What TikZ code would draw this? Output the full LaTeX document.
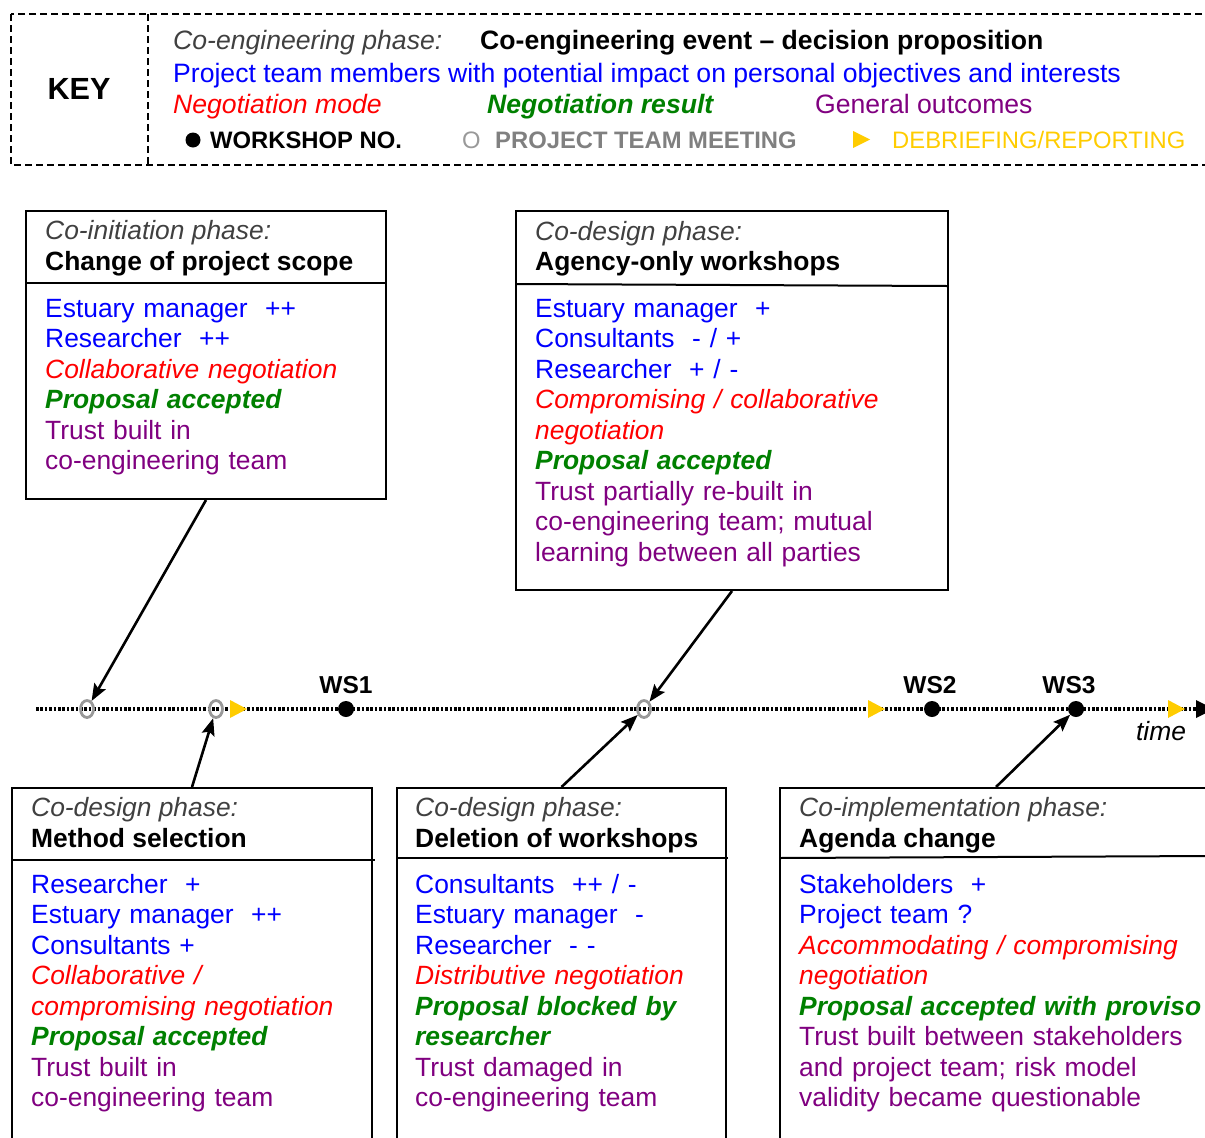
\documentclass[tikz,border=0pt]{standalone}
\usepackage{fontspec}
\setmainfont{Liberation Sans}
\usetikzlibrary{arrows.meta,shapes.geometric}
\definecolor{cblue}{HTML}{0000FF}
\definecolor{cred}{HTML}{FF0000}
\definecolor{cgreen}{HTML}{008000}
\definecolor{cpurple}{HTML}{800080}
\definecolor{cyel}{HTML}{FFCC00}
\definecolor{cgreyt}{HTML}{404040}
\definecolor{cgreym}{HTML}{808080}
\definecolor{cgreyc}{HTML}{999999}
\newcommand{\bodyfs}{\fontsize{26.4}{30.55}\selectfont}
\newcommand{\keyfs}{\fontsize{26.6}{30.55}\selectfont}
\newcommand{\smallfs}{\fontsize{23.8}{28}\selectfont}
\newcommand{\ph}[1]{{\color{cgreyt}\itshape #1}}
\newcommand{\mem}[1]{{\color{cblue}#1}}
\newcommand{\nmode}[1]{{\color{cred}\itshape #1}}
\newcommand{\nres}[1]{{\color{cgreen}\bfseries\itshape #1}}
\newcommand{\gout}[1]{{\color{cpurple}#1}}
\tikzset{
  boxst/.style={draw, line width=2pt, inner sep=0pt, anchor=north west},
  txt/.style={inner sep=0pt, anchor=base west, font=\bodyfs},
  blk/.style={inner sep=0pt, anchor=base west, font=\bodyfs, text width=#1, align=left},
  ktxt/.style={inner sep=0pt, anchor=base west, font=\keyfs},
  k4/.style={inner sep=0pt, anchor=base west, font=\smallfs},
  keyline/.style={line width=1.7pt, dash pattern=on 7pt off 4pt},
  divline/.style={line width=2pt},
  conn/.style={line width=2.6pt, -{Stealth[length=17pt,width=13pt,inset=3pt]}},
  tline/.style={line width=3.2pt, dash pattern=on 2.6pt off 1.8pt},
  meet/.style={ellipse, draw=cgreyc, line width=2.8pt, minimum width=13pt, minimum height=17pt, inner sep=0pt},
  wsdot/.style={circle, fill=black, minimum size=16pt, inner sep=0pt},
  wslab/.style={inner sep=0pt, anchor=base, font=\fontsize{24.5}{28}\selectfont\bfseries},
}
\begin{document}
\begin{tikzpicture}[x=1pt,y=-1pt]
\useasboundingbox (0,0) rectangle (1205,1138);
% ---------- KEY ----------
\draw[keyline] (11,14) rectangle (1220,165);
\draw[keyline] (148,14) -- (148,165);
\node[inner sep=0pt, anchor=base, font=\fontsize{30.6}{34}\selectfont\bfseries] (keyt) at (79,99) {KEY};
\node[ktxt] (k1) at (173,49) {\ph{Co-engineering phase:}};
\node[ktxt] (k2) at (480,49) {\bfseries Co-engineering event – decision proposition};
\node[ktxt] (k3) at (173,82) {\mem{Project team members with potential impact on personal objectives and interests}};
\node[ktxt] (k4) at (173,113) {\nmode{Negotiation mode}};
\node[ktxt] (k5) at (487,113) {\nres{Negotiation result}};
\node[ktxt] (k6) at (815,113) {\gout{General outcomes}};
\node[circle, fill=black, minimum size=15pt, inner sep=0pt] (kdot) at (193,140) {};
\node[k4] (k7) at (210,148) {\bfseries WORKSHOP NO.};
\node[k4] (k8) at (462,148) {\color{cgreyc}O};
\node[k4] (k9) at (495,148) {\color{cgreym}\bfseries PROJECT TEAM MEETING};
\fill[cyel] (853,131) -- (870,139.5) -- (853,148) -- cycle;
\node[k4] (k10) at (892,148) {\color{cyel}DEBRIEFING/REPORTING};
% ---------- Boxes ----------
\node[boxst, minimum width=360pt, minimum height=288pt] (boxA) at (25,210) {};
\draw[divline] (25,283) -- (385,283);
\node[txt] (tA1) at (45,239) {\ph{Co-initiation phase:}};
\node[txt] (tA2) at (45,270) {\bfseries Change of project scope};
\node[blk=340pt] (bA) at (45,317) {\mem{Estuary manager~~++}\\ \mem{Researcher~~++}\\ \nmode{Collaborative negotiation}\\ \nres{Proposal accepted}\\ \gout{Trust built in}\\ \gout{co-engineering team}};

\node[boxst, minimum width=432pt, minimum height=379pt] (boxB) at (515,210) {};
\draw[divline] (515,284) -- (947,286);
\node[txt] (tB1) at (535,240) {\ph{Co-design phase:}};
\node[txt] (tB2) at (535,270) {\bfseries Agency-only workshops};
\node[blk=410pt] (bB) at (535,317) {\mem{Estuary manager~~+}\\ \mem{Consultants~~- / +}\\ \mem{Researcher~~+ / -}\\ \nmode{Compromising / collaborative}\\ \nmode{negotiation}\\ \nres{Proposal accepted}\\ \gout{Trust partially re-built in}\\ \gout{co-engineering team; mutual}\\ \gout{learning between all parties}};

\node[boxst, minimum width=360pt, minimum height=400pt] (boxC) at (11,787) {};
\draw[divline] (11,860) -- (375,860);
\node[txt] (tC1) at (31,816) {\ph{Co-design phase:}};
\node[txt] (tC2) at (31,847) {\bfseries Method selection};
\node[blk=340pt] (bC) at (31,893) {\mem{Researcher~~+}\\ \mem{Estuary manager~~++}\\ \mem{Consultants +}\\ \nmode{Collaborative /}\\ \nmode{compromising negotiation}\\ \nres{Proposal accepted}\\ \gout{Trust built in}\\ \gout{co-engineering team}};

\node[boxst, minimum width=329pt, minimum height=400pt] (boxD) at (396,787) {};
\draw[divline] (396,858) -- (728,858);
\node[txt] (tD1) at (415,816) {\ph{Co-design phase:}};
\node[txt] (tD2) at (415,847) {\bfseries Deletion of workshops};
\node[blk=320pt] (bD) at (415,893) {\mem{Consultants~~++ / -}\\ \mem{Estuary manager~~-}\\ \mem{Researcher~~- -}\\ \nmode{Distributive negotiation}\\ \nres{Proposal blocked by}\\ \nres{researcher}\\ \gout{Trust damaged in}\\ \gout{co-engineering team}};

\node[boxst, minimum width=432pt, minimum height=400pt] (boxE) at (779,787) {};
\draw[divline] (779,858) -- (1211,856);
\node[txt] (tE1) at (799,816) {\ph{Co-implementation phase:}};
\node[txt] (tE2) at (799,847) {\bfseries Agenda change};
\node[blk=420pt] (bE) at (799,893) {\mem{Stakeholders~~+}\\ \mem{Project team ?}\\ \nmode{Accommodating / compromising}\\ \nmode{negotiation}\\ \nres{Proposal accepted with proviso}\\ \gout{Trust built between stakeholders}\\ \gout{and project team; risk model}\\ \gout{validity became questionable}};
% ---------- Timeline ----------
\coordinate (tstart) at (36,709);
\coordinate (tend) at (1214,709);
\draw[tline] (tstart) -- (1196,709);
\fill (tend) -- (1196,700) -- (1196,718) -- cycle;
\node[meet] (m1) at (87,709) {};
\node[meet] (m2) at (216,709) {};
\node[meet] (m3) at (644,709) {};
\node[wsdot] (ws1) at (346,709) {};
\node[wsdot] (ws2) at (932,709) {};
\node[wsdot] (ws3) at (1076,709) {};
\fill[cyel] (230,700) -- (247,709) -- (230,718) -- cycle;
\fill[cyel] (868,700) -- (885,709) -- (868,718) -- cycle;
\fill[cyel] (1168,700) -- (1185,709) -- (1168,718) -- cycle;
\node[wslab] (l1) at (346,693) {WS1};
\node[wslab] (l2) at (930,693) {WS2};
\node[wslab] (l3) at (1069,693) {WS3};
\node[inner sep=0pt, anchor=base, font=\bodyfs\itshape] (time) at (1161,740) {time};
% ---------- Connectors ----------
\draw[conn] (boxA.south) -- (m1);
\draw[conn] (boxC.north) -- (m2);
\draw[conn] (boxB.south) -- (m3);
\draw[conn] (boxD.north) -- (m3);
\draw[conn] (boxE.north) -- (ws3);
\end{tikzpicture}
\end{document}
